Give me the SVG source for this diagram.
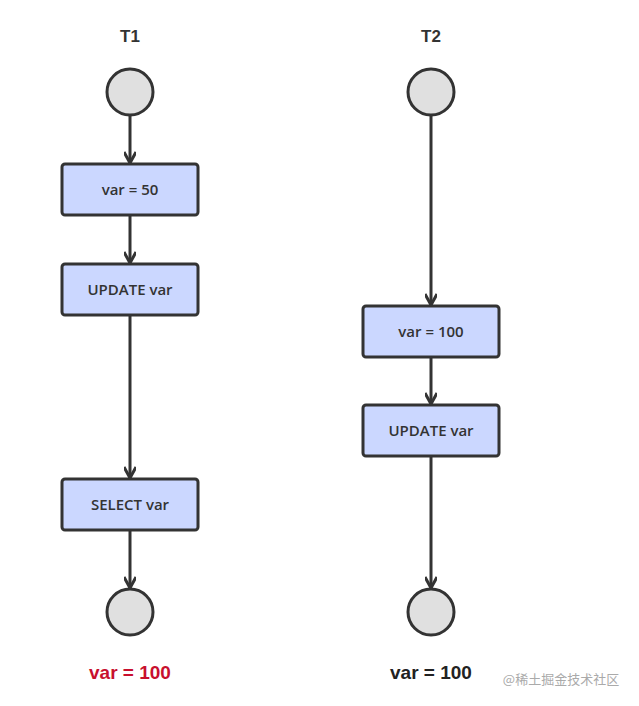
<svg xmlns="http://www.w3.org/2000/svg" width="639" height="706" viewBox="0 0 639 706">
<defs>
<style>
.c{fill:#e0e0e0;stroke:#333;stroke-width:3}
.b{fill:#cbd7ff;stroke:#333;stroke-width:3}
.t{font-family:"Open Sans","Liberation Sans",sans-serif;font-size:15px;font-weight:600;fill:#333;text-anchor:middle}
.h{font-family:"Liberation Sans",sans-serif;font-size:17px;font-weight:bold;fill:#333;text-anchor:middle}
.e{stroke:#333;stroke-width:3;fill:none}
</style>
<marker id="a" markerWidth="14" markerHeight="12" refX="12" refY="6" orient="auto" markerUnits="userSpaceOnUse"><path d="M1,0 L12,6 L1,12" fill="none" stroke="#333" stroke-width="3"/></marker>
</defs>
<rect width="639" height="706" fill="#fff"/>
<text class="h" x="130" y="42">T1</text>
<text class="h" x="431" y="42">T2</text>
<g id="connectors">
<line class="e" x1="130" y1="115" x2="130" y2="163" marker-end="url(#a)"/>
<line class="e" x1="130" y1="216" x2="130" y2="263" marker-end="url(#a)"/>
<line class="e" x1="130" y1="316" x2="130" y2="478" marker-end="url(#a)"/>
<line class="e" x1="130" y1="531" x2="130" y2="588" marker-end="url(#a)"/>
<line class="e" x1="431" y1="115" x2="431" y2="305" marker-end="url(#a)"/>
<line class="e" x1="431" y1="358" x2="431" y2="404" marker-end="url(#a)"/>
<line class="e" x1="431" y1="457" x2="431" y2="588" marker-end="url(#a)"/>
</g>
<g id="s1"><circle class="c" cx="130" cy="92" r="23"/></g>
<g id="n1"><rect class="b" x="62" y="164" width="136" height="51" rx="3"/><text class="t" x="130" y="195">var = 50</text></g>
<g id="n2"><rect class="b" x="62" y="264" width="136" height="51" rx="3"/><text class="t" x="130" y="295">UPDATE var</text></g>
<g id="n3"><rect class="b" x="62" y="479" width="136" height="51" rx="3"/><text class="t" x="130" y="510">SELECT var</text></g>
<g id="e1"><circle class="c" cx="130" cy="612" r="23"/></g>
<g id="s2"><circle class="c" cx="431" cy="92" r="23"/></g>
<g id="m1"><rect class="b" x="363" y="306" width="136" height="51" rx="3"/><text class="t" x="431" y="337">var = 100</text></g>
<g id="m2"><rect class="b" x="363" y="405" width="136" height="51" rx="3"/><text class="t" x="431" y="436">UPDATE var</text></g>
<g id="e2"><circle class="c" cx="431" cy="612" r="23"/></g>
<text x="130" y="679" font-family="Liberation Sans,sans-serif" font-size="19" font-weight="bold" fill="#c8102e" text-anchor="middle">var = 100</text>
<text x="431" y="679" font-family="Liberation Sans,sans-serif" font-size="19" font-weight="bold" fill="#222" text-anchor="middle">var = 100</text>
<text x="561" y="684" font-family="Noto Sans CJK SC,sans-serif" font-size="13" fill="#aaa" text-anchor="middle">@稀土掘金技术社区</text>
</svg>
